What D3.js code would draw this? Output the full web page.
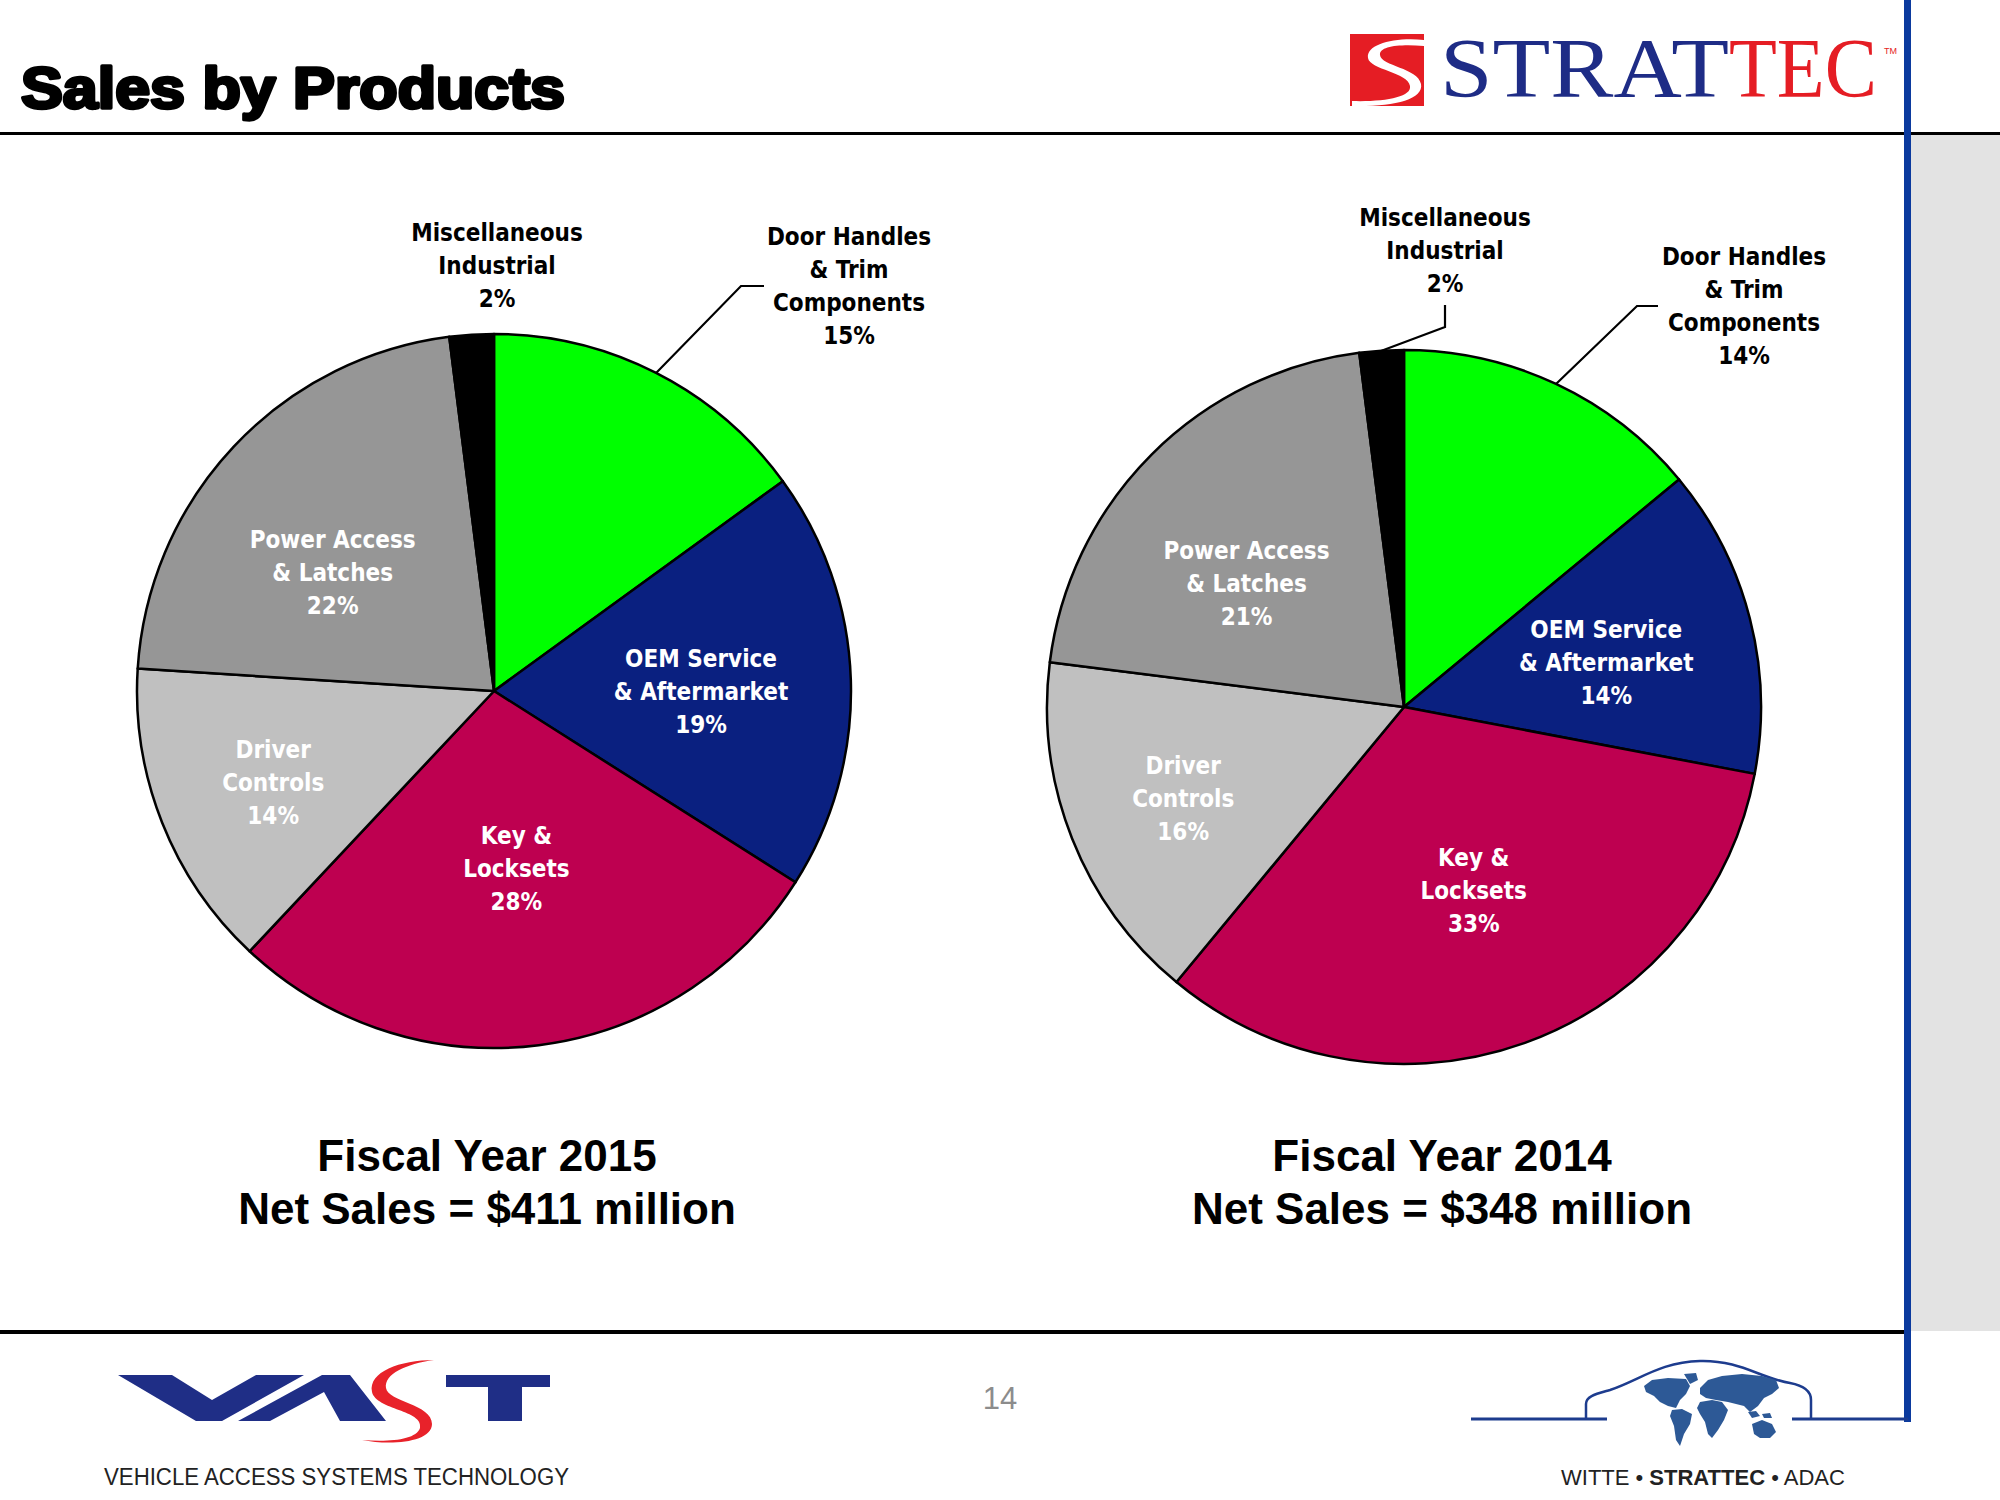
<!DOCTYPE html>
<html>
<head>
<meta charset="utf-8">
<script src="https://cdn.jsdelivr.net/npm/d3@7"></script>
<style>
  html, body { margin: 0; padding: 0; background: #fff; }
  svg { display: block; }
</style>
</head>
<body>
<script>
// ---------------- DATA ----------------
const categories = [
  "Door Handles & Trim Components",
  "OEM Service & Aftermarket",
  "Key & Locksets",
  "Driver Controls",
  "Power Access & Latches",
  "Miscellaneous Industrial"
];
const labelLines = [
  ["Door Handles", "& Trim", "Components"],
  ["OEM Service", "& Aftermarket"],
  ["Key &", "Locksets"],
  ["Driver", "Controls"],
  ["Power Access", "& Latches"],
  ["Miscellaneous", "Industrial"]
];
const values2015 = [15, 19, 28, 14, 22, 2];
const values2014 = [14, 14, 33, 16, 21, 2];
const fiscalYears = ["2015", "2014"];
const netSalesMillions = [411, 348];
const sliceColors = ["#00FF00", "#0A2080", "#BE0050", "#C0C0C0", "#969696", "#000000"];
const insideTextColor = ["#000", "#fff", "#fff", "#fff", "#fff", "#000"];

// ---------------- LAYOUT ----------------
const W = 2000, H = 1500;
const R = 357;
const labelFont = "'DejaVu Sans Condensed', 'DejaVu Sans', sans-serif";
const labelSize = 24, lineH = 33;

const pies = [
  { cx: 494, cy: 691, values: values2015, year: fiscalYears[0], sales: netSalesMillions[0],
    titleX: 487,
    inRFrac: [null, 0.58, 0.50, 0.67, 0.56, null],
    inNudge: [0, 2, 0, -1, -7, 0],
    outside: {
      0: { tx: 355, ty: -455, leader: [[247, -405], [270, -405]] },
      5: { tx: 3, ty: -459, leader: null }
    }
  },
  { cx: 1404, cy: 707, values: values2014, year: fiscalYears[1], sales: netSalesMillions[1],
    titleX: 1442,
    inRFrac: [null, 0.58, 0.55, 0.67, 0.56, null],
    inNudge: [0, 2, -1, -1, -7, 0],
    outside: {
      0: { tx: 340, ty: -451, leader: [[233, -401], [254, -401]] },
      5: { tx: 41, ty: -490, leader: [[41, -380], [41, -402]] }
    }
  }
];

const svg = d3.select("body").append("svg").attr("width", W).attr("height", H);
svg.append("rect").attr("width", W).attr("height", H).attr("fill", "#fff");

// right gray panel, rules
svg.append("rect").attr("x", 1911).attr("y", 135).attr("width", 89).attr("height", 1196).attr("fill", "#E3E3E3");
svg.append("line").attr("x1", 0).attr("x2", 2000).attr("y1", 133.5).attr("y2", 133.5).attr("stroke", "#000").attr("stroke-width", 3);
svg.append("line").attr("x1", 0).attr("x2", 1906).attr("y1", 1332).attr("y2", 1332).attr("stroke", "#000").attr("stroke-width", 4);

// Title
svg.append("text").attr("x", 21).attr("y", 108)
  .attr("font-family", "'Liberation Sans', Arial, sans-serif").attr("font-weight", 900)
  .attr("font-size", 57).attr("textLength", 544).attr("lengthAdjust", "spacingAndGlyphs")
  .attr("stroke", "#000").attr("stroke-width", 3.4).attr("stroke-linejoin", "round")
  .text("Sales by Products");

// STRATTEC logo (top right)
const logo = svg.append("g");
logo.append("rect").attr("x", 1350).attr("y", 34).attr("width", 74).attr("height", 72).attr("fill", "#E51D24");
logo.append("path")
  .attr("d", "M1424,40 C1395,37 1366,44 1368,58 C1370,70 1408,72 1410,86 C1412,97 1385,102 1352,101 L1352,106 C1392,107 1424,100 1421,84 C1418,68 1381,66 1380,55 C1379,46 1400,44 1424,46 Z")
  .attr("fill", "#fff");
logo.append("text").attr("x", 1440).attr("y", 97)
  .attr("font-family", "'Liberation Serif', 'DejaVu Serif', serif").attr("font-size", 84)
  .attr("textLength", 289).attr("lengthAdjust", "spacingAndGlyphs")
  .attr("fill", "#1E2C86").text("STRAT");
logo.append("text").attr("x", 1729).attr("y", 97)
  .attr("font-family", "'Liberation Serif', 'DejaVu Serif', serif").attr("font-size", 84)
  .attr("textLength", 148).attr("lengthAdjust", "spacingAndGlyphs")
  .attr("fill", "#E51D24").text("TEC");
logo.append("text").attr("x", 1884).attr("y", 54)
  .attr("font-family", "'Liberation Sans', Arial, sans-serif").attr("font-size", 9)
  .attr("fill", "#E51D24").text("TM");

// blue vertical rule
svg.append("rect").attr("x", 1904).attr("y", 0).attr("width", 7).attr("height", 1422).attr("fill", "#0B3A9E");

// ---------------- PIES ----------------
const pieGen = d3.pie().sort(null).value(d => d);
const arcGen = d3.arc().innerRadius(0).outerRadius(R);
const polar = (a, r) => [Math.sin(a) * r, -Math.cos(a) * r];

pies.forEach(p => {
  const g = svg.append("g").attr("transform", `translate(${p.cx},${p.cy})`);
  const arcs = pieGen(p.values);

  g.selectAll("path.slice").data(arcs).enter().append("path")
    .attr("class", "slice")
    .attr("d", arcGen)
    .attr("fill", (d, i) => sliceColors[i])
    .attr("stroke", "#000").attr("stroke-width", 2.5).attr("stroke-linejoin", "round");

  arcs.forEach((d, i) => {
    const lines = labelLines[i].concat([d.data + "%"]);
    const mid = (d.startAngle + d.endAngle) / 2;
    let x, yTop, color;
    if (p.outside[i]) {
      const o = p.outside[i];
      x = o.tx; yTop = o.ty; color = "#000";
      if (o.leader) {
        const e = polar(mid, R);
        const pts = [e].concat(o.leader);
        g.append("path").attr("d", d3.line()(pts))
          .attr("fill", "none").attr("stroke", "#000").attr("stroke-width", 2.2);
      }
    } else {
      const a = mid + p.inNudge[i] * Math.PI / 180;
      const c = polar(a, R * p.inRFrac[i]);
      x = c[0];
      yTop = c[1] - (lines.length - 1) * lineH / 2;
      color = insideTextColor[i];
    }
    const t = g.append("text")
      .attr("font-family", labelFont).attr("font-weight", "bold").attr("font-size", labelSize)
      .attr("text-anchor", "middle").attr("fill", color);
    lines.forEach((ln, k) => {
      t.append("tspan").attr("x", x).attr("y", yTop + k * lineH + 8.5).text(ln);
    });
  });

  // captions
  const cap = svg.append("text").attr("text-anchor", "middle")
    .attr("font-family", "'Liberation Sans', Arial, sans-serif").attr("font-weight", "bold")
    .attr("font-size", 44).attr("fill", "#000");
  cap.append("tspan").attr("x", p.titleX).attr("y", 1171).text("Fiscal Year " + p.year);
  cap.append("tspan").attr("x", p.titleX).attr("y", 1224).text("Net Sales = $" + p.sales + " million");
});

// ---------------- FOOTER ----------------
svg.append("text").attr("x", 1000).attr("y", 1409).attr("text-anchor", "middle")
  .attr("font-family", "'Liberation Sans', Arial, sans-serif").attr("font-size", 31)
  .attr("fill", "#8C8C8C").text("14");

// VAST logo
const vast = svg.append("g");
const navy = "#1F2E86";
vast.append("path").attr("d", "M118,1375 L172,1375 L212,1400 L256,1375 L304,1375 L222,1421 L196,1421 Z").attr("fill", navy);
vast.append("path").attr("d", "M238,1421 L270,1421 L324,1392 L340,1421 L386,1421 L350,1375 L322,1375 Z").attr("fill", navy);
vast.append("path").attr("d", "M434,1360 C400,1360 368,1372 372,1392 C376,1410 424,1410 420,1428 C416,1440 390,1442 362,1440 C392,1446 432,1442 432,1424 C432,1404 388,1402 386,1388 C384,1374 406,1364 434,1360 Z").attr("fill", "#E8222A");
vast.append("path").attr("d", "M446,1375 L550,1375 L550,1387 L522,1387 L522,1421 L488,1421 L488,1387 L446,1387 Z").attr("fill", navy);
svg.append("text").attr("x", 104).attr("y", 1485)
  .attr("font-family", "'Liberation Sans Narrow', 'Liberation Sans', Arial, sans-serif").attr("font-size", 23)
  .attr("textLength", 465).attr("lengthAdjust", "spacingAndGlyphs")
  .attr("fill", "#222").text("VEHICLE ACCESS SYSTEMS TECHNOLOGY");

// car / globe logo
const blue = "#1D3C8E";
const car = svg.append("g");
car.append("line").attr("x1", 1471).attr("x2", 1607).attr("y1", 1419).attr("y2", 1419).attr("stroke", blue).attr("stroke-width", 3);
car.append("line").attr("x1", 1792).attr("x2", 1908).attr("y1", 1419).attr("y2", 1419).attr("stroke", blue).attr("stroke-width", 3);
car.append("path").attr("d", "M1586,1419 L1586,1404 C1586,1396 1596,1394 1610,1390 C1640,1380 1660,1362 1700,1361 C1740,1360 1760,1378 1790,1383 C1806,1386 1811,1392 1811,1400 L1811,1419")
  .attr("fill", "none").attr("stroke", blue).attr("stroke-width", 2.5);
const land = "#2D5996";
const continents = [
  "M1644,1386 L1652,1380 L1668,1378 L1686,1379 L1690,1386 L1686,1394 L1680,1400 L1676,1408 L1668,1406 L1660,1402 L1654,1396 L1646,1392 Z",
  "M1684,1374 L1696,1373 L1698,1380 L1690,1384 Z",
  "M1672,1410 L1682,1409 L1692,1414 L1690,1424 L1684,1434 L1680,1446 L1676,1440 L1674,1426 L1670,1416 Z",
  "M1700,1388 L1708,1380 L1722,1376 L1742,1374 L1762,1376 L1776,1380 L1779,1388 L1772,1394 L1764,1398 L1758,1406 L1750,1412 L1744,1406 L1736,1404 L1728,1402 L1716,1400 L1706,1398 L1700,1394 Z",
  "M1700,1402 L1712,1400 L1722,1402 L1728,1410 L1724,1420 L1718,1430 L1712,1438 L1708,1434 L1705,1422 L1700,1414 L1697,1408 Z",
  "M1752,1424 L1762,1420 L1772,1424 L1776,1432 L1770,1438 L1760,1438 L1754,1434 Z",
  "M1748,1412 L1756,1411 L1760,1416 L1752,1418 Z",
  "M1762,1414 L1770,1413 L1772,1418 L1764,1418 Z"
];
car.selectAll("path.land").data(continents).enter().append("path").attr("class", "land").attr("d", d => d).attr("fill", land);
const foot = svg.append("text").attr("x", 1561).attr("y", 1485)
  .attr("font-family", "'Liberation Sans', Arial, sans-serif").attr("font-size", 22).attr("fill", "#222");
foot.append("tspan").text("WITTE • ");
foot.append("tspan").attr("font-weight", "bold").text("STRATTEC");
foot.append("tspan").text(" • ADAC");
</script>
</body>
</html>
